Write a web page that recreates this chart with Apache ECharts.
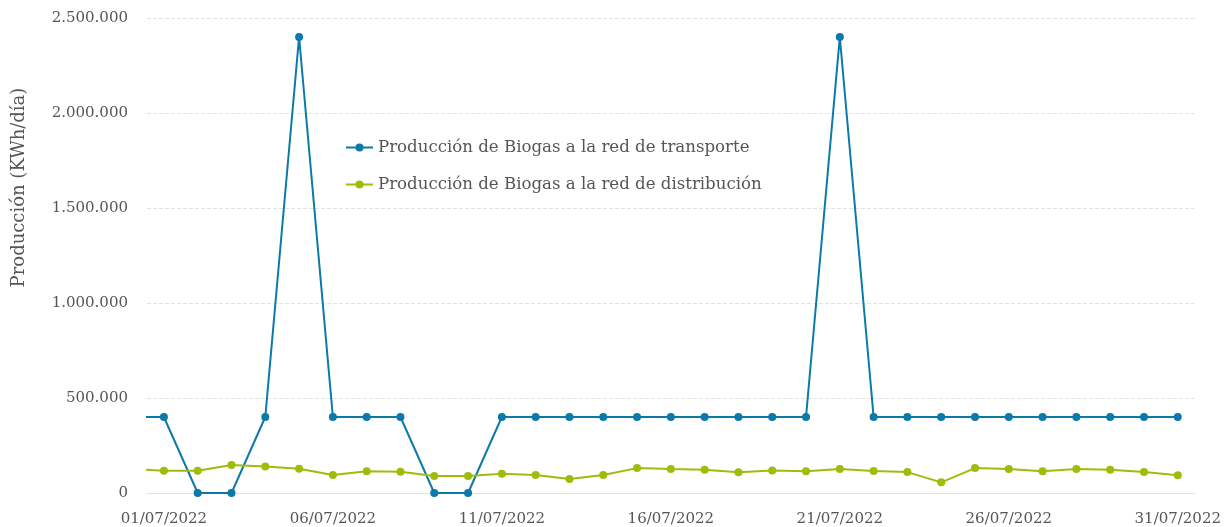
<!DOCTYPE html>
<html lang="es">
<head>
    <meta charset="UTF-8">
    <title>Producción de Biogas</title>
    <style type="text/css">
        body, html{width: 100%;height: 100%;margin:0;background:#fff;}
        #main {width: 1224px; height:527px;}
    </style>
    <script src="https://cdn.jsdelivr.net/npm/echarts@6/dist/echarts.min.js"></script>
</head>
<body>
<div id="main"></div>
<script type="text/javascript">
    // dias: indice 0 = 30/06 (recortado por el borde), 1..31 = julio
    var dias = ['30/06/2022'];
    for (var d = 1; d <= 31; d++) {
        dias.push((d < 10 ? '0' + d : '' + d) + '/07/2022');
    }
    var etiquetasX = [1, 6, 11, 16, 21, 26, 31];

    var transporte = [400000,
        400000, 0, 0, 400000, 2400000, 400000, 400000, 400000, 0, 0,
        400000, 400000, 400000, 400000, 400000, 400000, 400000, 400000, 400000, 400000,
        2400000, 400000, 400000, 400000, 400000, 400000, 400000, 400000, 400000, 400000,
        400000];
    var distribucion = [127000,
        117000, 117000, 147000, 140000, 128000, 95000, 114000, 112000, 89000, 89000,
        101000, 95000, 74000, 95000, 131000, 126000, 122000, 109000, 119000, 114000,
        126000, 116000, 110000, 56000, 131000, 126000, 114000, 126000, 122000, 110000,
        93000];

    function pares(arr) {
        return arr.map(function (v, i) { return [i, v]; });
    }
    function miles(v) {
        return String(v).replace(/\B(?=(\d{3})+(?!\d))/g, '.');
    }

    var fuente = 'DejaVu Serif';
    var chart = echarts.init(document.getElementById('main'));
    chart.setOption({
        animation: false,
        textStyle: {fontFamily: fuente},
        grid: {left: 147, right: 27, top: 18, bottom: 33, containLabel: false},
        legend: {
            orient: 'vertical',
            left: 340,
            top: 134,
            itemWidth: 27,
            itemHeight: 10,
            itemGap: 20,
            textStyle: {fontFamily: fuente, fontSize: 16.6, color: '#555'}
        },
        xAxis: {
            type: 'value',
            min: 0.5,
            max: 31.5,
            splitLine: {show: false},
            axisTick: {show: false},
            axisLine: {show: true, lineStyle: {color: '#e2e2e2'}},
            axisLabel: {
                customValues: etiquetasX,
                margin: 19,
                fontSize: 15,
                color: '#555',
                formatter: function (v) { return dias[Math.round(v)]; }
            }
        },
        yAxis: {
            type: 'value',
            min: 0,
            max: 2500000,
            interval: 500000,
            name: 'Producción (KWh/día)',
            nameLocation: 'middle',
            nameGap: 119,
            nameTextStyle: {fontFamily: fuente, fontSize: 18, color: '#555', padding: [0, 0, 0, 136]},
            axisLine: {show: false},
            axisTick: {show: false},
            axisLabel: {margin: 19, fontSize: 15, color: '#555', formatter: miles},
            splitLine: {lineStyle: {color: '#e2e2e2', type: 'dashed'}}
        },
        series: [
            {
                name: 'Producción de Biogas a la red de transporte',
                type: 'line',
                data: pares(transporte),
                color: '#0b79a9',
                symbol: 'circle',
                symbolSize: 8,
                lineStyle: {width: 2}
            },
            {
                name: 'Producción de Biogas a la red de distribución',
                type: 'line',
                data: pares(distribucion),
                color: '#a0bc0b',
                symbol: 'circle',
                symbolSize: 8,
                lineStyle: {width: 2}
            }
        ]
    });
</script>
</body>
</html>
